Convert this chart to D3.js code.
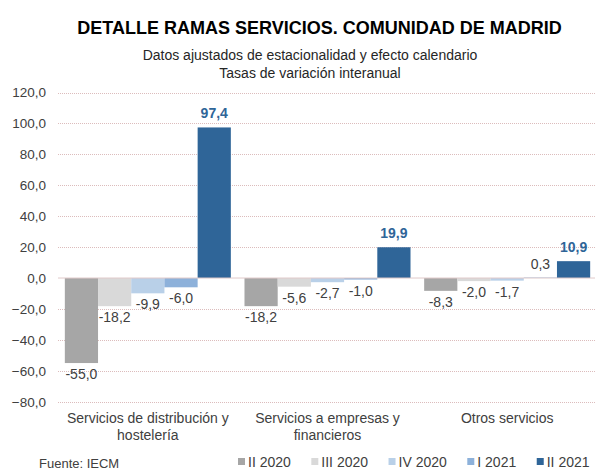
<!DOCTYPE html>
<html>
<head>
<meta charset="utf-8">
<script src="https://cdn.jsdelivr.net/npm/d3@7"></script>
<style>
  html, body { margin: 0; padding: 0; background: #fff; }
  svg { display: block; font-family: "Liberation Sans", Arial, sans-serif; }
</style>
</head>
<body>
<svg id="chart" width="595" height="472"></svg>
<script>
const categories = [["Servicios de distribución y", "hostelería"], ["Servicios a empresas y", "financieros"], ["Otros servicios"]];
const seriesNames = ["II 2020", "III 2020", "IV 2020", "I 2021", "II 2021"];
const seriesColors = ["#a6a6a6", "#d9d9d9", "#b9d0e8", "#8db1da", "#2f6598"];
const valuesII2020 = [-55.0, -18.2, -8.3];
const valuesIII2020 = [-18.2, -5.6, -2.0];
const valuesIV2020 = [-9.9, -2.7, -1.7];
const valuesI2021 = [-6.0, -1.0, 0.3];
const valuesII2021 = [97.4, 19.9, 10.9];
const yTicks = [120, 100, 80, 60, 40, 20, 0, -20, -40, -60, -80];
const title = "DETALLE RAMAS SERVICIOS. COMUNIDAD DE MADRID";
const subtitle = ["Datos ajustados de estacionalidad y efecto calendario", "Tasas de variación interanual"];
const source = "Fuente: IECM";

const allValues = [valuesII2020, valuesIII2020, valuesIV2020, valuesI2021, valuesII2021];
const catKeys = categories.map((c, i) => "c" + i);

const svg = d3.select("#chart");
const textColor = "#404040";

const y = d3.scaleLinear().domain([-80, 120]).range([401.7, 92.5]);
const x0 = d3.scaleBand().domain(catKeys).range([58, 597]);
const bw = x0.bandwidth();
const x1 = d3.scaleBand().domain(seriesNames).range([bw * 0.038, bw * 0.962]);

// Title
svg.append("text").attr("x", 319.5).attr("y", 34).attr("text-anchor", "middle")
  .attr("font-size", 18).attr("font-weight", "bold").attr("fill", "#000").text(title);
subtitle.forEach((s, i) => {
  svg.append("text").attr("x", 310).attr("y", 60 + i * 18).attr("text-anchor", "middle")
    .attr("font-size", 14).attr("fill", "#262626").text(s);
});

// Y axis labels
const yAxis = d3.axisLeft(y).tickValues(yTicks).tickSize(0).tickPadding(0)
  .tickFormat(d => d3.format(".1f")(d).replace(".", ","));
const gAxis = svg.append("g").attr("transform", "translate(46,0)").call(yAxis);
gAxis.select(".domain").remove();
gAxis.selectAll("text").attr("font-size", 13.5).attr("fill", textColor)
  .attr("font-family", "Liberation Sans, Arial, sans-serif");

// Gridlines
svg.append("g").selectAll("line").data(yTicks.filter(d => d !== 0)).join("line")
  .attr("x1", 58).attr("x2", 595)
  .attr("y1", d => Math.round(y(d)) + 0.5).attr("y2", d => Math.round(y(d)) + 0.5)
  .attr("stroke", "#dcbcbc").attr("stroke-width", 1).attr("stroke-dasharray", "1,1");

// Bars
const groups = svg.append("g").selectAll("g").data(catKeys).join("g")
  .attr("transform", d => `translate(${x0(d)},0)`);

groups.each(function(ck, ci) {
  const g = d3.select(this);
  seriesNames.forEach((s, si) => {
    const v = allValues[si][ci];
    g.append("rect")
      .attr("x", x1(s)).attr("width", x1.bandwidth())
      .attr("y", y(Math.max(0, v))).attr("height", Math.abs(y(v) - y(0)))
      .attr("fill", seriesColors[si]);
  });
});

// Zero line
svg.append("line").attr("x1", 58).attr("x2", 595)
  .attr("y1", y(0)).attr("y2", y(0)).attr("stroke", "#e0caca").attr("stroke-width", 1);

// Labels
groups.each(function(ck, ci) {
  const g = d3.select(this);
  seriesNames.forEach((s, si) => {
    const v = allValues[si][ci];
    const last = si === seriesNames.length - 1;
    const cx = x1(s) + x1.bandwidth() / 2;
    const ty = v >= 0 ? y(v) - 9 : y(v) + 16;
    g.append("text").attr("x", cx).attr("y", ty).attr("text-anchor", "middle")
      .attr("font-size", 14).attr("font-weight", last ? "bold" : "normal")
      .attr("fill", last ? "#2f6598" : textColor)
      .text(d3.format(".1f")(v).replace(".", ",").replace("−", "-"));
  });
  const lines = categories[ci];
  lines.forEach((l, li) => {
    svg.append("text").attr("x", x0(ck) + bw / 2).attr("y", 423 + li * 16.5)
      .attr("text-anchor", "middle").attr("font-size", 14).attr("fill", textColor).text(l);
  });
});

// Legend
const legend = svg.append("g");
let lx = 238;
seriesNames.forEach((s, si) => {
  legend.append("rect").attr("x", lx).attr("y", 458).attr("width", 7).attr("height", 7)
    .attr("fill", seriesColors[si]);
  const t = legend.append("text").attr("x", lx + 10).attr("y", 466.5).attr("font-size", 14)
    .attr("fill", textColor).text(s);
  lx += 10 + t.node().getComputedTextLength() + 20.5;
});

// Source
svg.append("text").attr("x", 39).attr("y", 468).attr("font-size", 13).attr("fill", textColor).text(source);
</script>
</body>
</html>
